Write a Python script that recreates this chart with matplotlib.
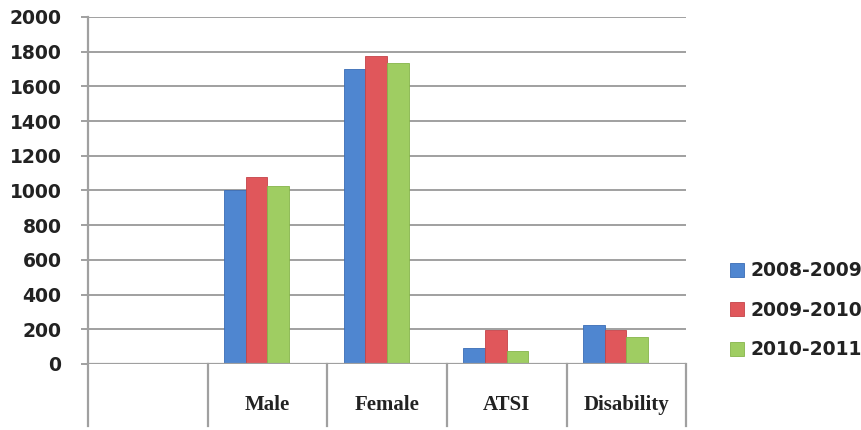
import numpy as np
import matplotlib
matplotlib.use("Agg")
import matplotlib.pyplot as plt
import matplotlib.transforms as mtransforms

categories = ["", "Male", "Female", "ATSI", "Disability"]
series = ["2008-2009", "2009-2010", "2010-2011"]
v2008 = [np.nan, 1005, 1700, 93, 224]
v2009 = [np.nan, 1080, 1775, 194, 194]
v2010 = [np.nan, 1028, 1732, 75, 155]
yticks = [0, 200, 400, 600, 800, 1000, 1200, 1400, 1600, 1800, 2000]

colors = ["#4f86d0", "#e0575b", "#9fcd62"]
edges = ["#3a6cb5", "#c44348", "#86b54a"]

fig = plt.figure(figsize=(8.62, 4.30), dpi=100)
ax = fig.add_axes([0.102, 0.1535, 0.694, 0.807])

x = np.arange(len(categories))
w = 1 / 5.5  # excel layout with 4 series slots, last one empty
for i, (vals, c, ec) in enumerate(zip([v2008, v2009, v2010], colors, edges)):
    ax.bar(x + (i - 1.5) * w, vals, w, color=c, edgecolor=ec, linewidth=0.6,
           label=series[i], zorder=3)

ax.set_xlim(-0.5, len(categories) - 0.5)
ax.set_ylim(0, 2000)
ax.set_yticks(yticks)
ax.set_yticklabels([str(t) for t in yticks], fontsize=13.5, fontweight="bold",
                   color="#222222")
ax.yaxis.grid(True, color="#a0a0a0", linewidth=1.4, zorder=0)
ax.tick_params(axis="y", length=5, width=1.4, color="#a0a0a0", pad=14)
ax.set_xticks([])

for s in ["top", "right", "bottom", "left"]:
    ax.spines[s].set_visible(False)

# axis frame lines and category separators reaching below the axis
trans = mtransforms.blended_transform_factory(ax.transData, ax.transAxes)
bounds = np.arange(len(categories) + 1) - 0.5
ax.plot([bounds[0], bounds[0]], [1.0, -0.18], transform=trans, color="#a0a0a0",
        linewidth=1.6, clip_on=False, zorder=4)
for b in bounds[1:]:
    ax.plot([b, b], [0, -0.18], transform=trans, color="#a0a0a0",
            linewidth=1.6, clip_on=False, zorder=4)
ax.axhline(0, color="#a0a0a0", linewidth=1.6, zorder=4)

for xi, cat in zip(x, categories):
    ax.text(xi, -0.118, cat, transform=trans, ha="center", va="center",
            fontsize=15, fontweight="bold", family="Liberation Serif",
            color="#222222")

leg = fig.legend(loc="upper left", bbox_to_anchor=(0.838, 0.41),
                 frameon=False, prop={"weight": "bold", "size": 13.5},
                 handlelength=0.75, handleheight=0.75, handletextpad=0.35,
                 labelspacing=1.1, borderaxespad=0)
for t in leg.get_texts():
    t.set_color("#222222")

fig.savefig("out.png", dpi=100)
